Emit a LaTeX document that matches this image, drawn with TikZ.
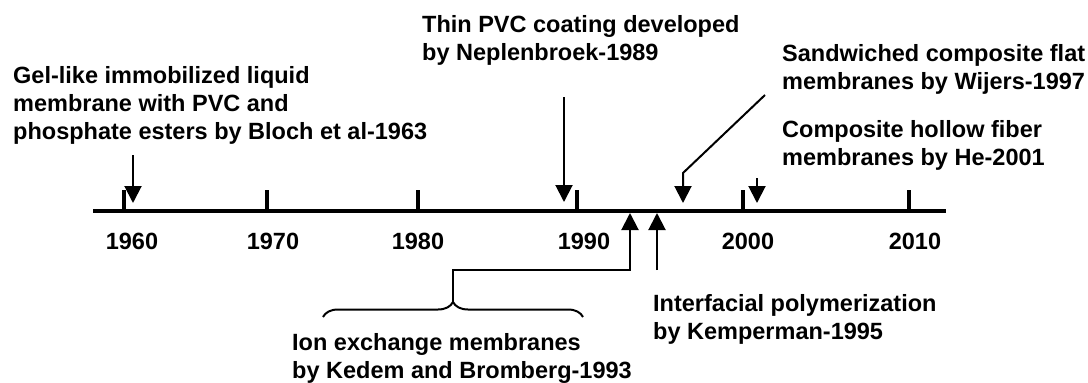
\documentclass[tikz,border=0pt]{standalone}
\usepackage{fontspec}
\setmainfont{Liberation Sans}
\usetikzlibrary{arrows.meta,decorations.pathreplacing}
\tikzset{
  lbl/.style={font=\fontsize{23.5}{28}\selectfont\bfseries, align=left, inner sep=0pt, anchor=west},
  yr/.style={font=\fontsize{23.5}{28}\selectfont\bfseries, inner sep=0pt},
  axisline/.style={line width=4pt},
  tickmark/.style={line width=4pt},
  arr/.style={line width=2pt, -{Triangle[width=17pt,length=17pt]}},
  plain/.style={line width=2pt},
}
\begin{document}
\begin{tikzpicture}[x=1pt,y=-1pt]
\useasboundingbox (0,0) rectangle (1088,383);
% axis
\coordinate (axL) at (93,211);
\coordinate (axR) at (946,211);
\draw[axisline] (axL) -- (axR);
% ticks and years
\foreach \x/\yy/\lx in {124/1960/132,267/1970/273,418/1980/418,577/1990/584,743/2000/748,909/2010/915}{
  \coordinate (t\yy a) at (\x,190);
  \coordinate (t\yy b) at (\x,211);
  \draw[tickmark] (t\yy a) -- (t\yy b);
  \node[yr] (y\yy) at (\lx,241) {\yy};
}
% labels
\node[lbl] (bloch) at (13,105) {Gel-like immobilized liquid\\membrane with PVC and\\phosphate esters by Bloch et al-1963};
\node[lbl] (nep) at (422,40) {Thin PVC coating developed\\by Neplenbroek-1989};
\node[lbl] (wij) at (782,69) {Sandwiched composite flat\\membranes by Wijers-1997};
\node[lbl] (he) at (782,145) {Composite hollow fiber\\membranes by He-2001};
\node[lbl] (kem) at (653,319) {Interfacial polymerization\\by Kemperman-1995};
\node[lbl] (ked) at (292,358) {Ion exchange membranes\\by Kedem and Bromberg-1993};
% arrows down
\coordinate (blochS) at (133,155); \coordinate (blochE) at (133,203);
\draw[arr] (blochS) -- (blochE);
\coordinate (nepS) at (564,97); \coordinate (nepE) at (564,202);
\draw[arr] (nepS) -- (nepE);
\coordinate (wijS) at (765,95); \coordinate (wijB) at (683,173); \coordinate (wijE) at (683,203);
\draw[arr] (wijS) -- (wijB) -- (wijE);
\coordinate (heS) at (757,178); \coordinate (heE) at (757,203);
\draw[arr] (heS) -- (heE);
% arrows up
\coordinate (kemS) at (657,270); \coordinate (kemE) at (657,213);
\draw[arr] (kemS) -- (kemE);
\coordinate (braceL) at (323,317); \coordinate (braceR) at (583,317);
\draw[plain, decorate, decoration={brace, amplitude=15pt}] (braceL) -- (braceR);
\coordinate (kedS) at (453,302); \coordinate (kedB1) at (453,270); \coordinate (kedB2) at (630,270); \coordinate (kedE) at (630,213);
\draw[arr] (kedS) -- (kedB1) -- (kedB2) -- (kedE);
\end{tikzpicture}
\end{document}
